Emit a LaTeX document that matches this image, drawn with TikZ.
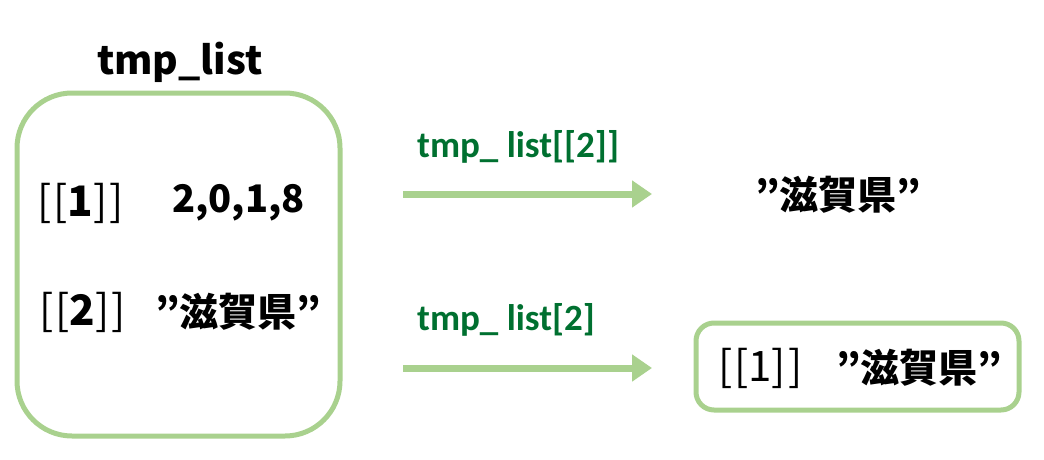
\documentclass[tikz,border=0pt]{standalone}
\usepackage{fontspec}
\setmainfont{Noto Sans CJK JP}
\newfontfamily\calib{Carlito}
\usetikzlibrary{arrows.meta}
\definecolor{boxgreen}{RGB}{169,209,142}
\definecolor{labgreen}{RGB}{0,112,48}
\tikzset{
  big/.style={font=\fontsize{39}{46}\selectfont\bfseries, inner sep=0pt, anchor=west},
  num/.style={font=\fontsize{38}{44}\selectfont\bfseries, inner sep=0pt, anchor=west},
  brk/.style={font=\fontsize{42}{48}\selectfont, inner sep=0pt, anchor=west},
  gbox/.style={draw=boxgreen, line width=5pt},
  lab/.style={font=\calib\fontsize{37}{42}\selectfont\bfseries, text=labgreen, inner sep=0pt, anchor=west},
  garrow/.style={draw=boxgreen, line width=7pt, -{Triangle[length=20pt,width=26pt]}}
}
\begin{document}
\begin{tikzpicture}[x=1pt,y=-1pt]
\useasboundingbox (0,0) rectangle (1044,460);
% left box
\draw[gbox, rounded corners=55pt] (17,93) rectangle (340,436);
\node[big, anchor=center] (title) at (180,62) {tmp\_list};
\node[brk] (i1) at (37,203) {[\kern2pt[\textbf{1}]\kern2pt]};
\node[num] (v1) at (172,203) {2,0,1,8};
\node[brk] (i2) at (39,312) {[\kern2pt[\textbf{2}]\kern2pt]};
\node[big] (v2) at (155,312) {”滋賀県”};
% arrows
\coordinate (a1s) at (403,194);
\coordinate (a1e) at (652,194);
\coordinate (a2s) at (403,368);
\coordinate (a2e) at (652,368);
\draw[garrow] (a1s) -- (a1e);
\draw[garrow] (a2s) -- (a2e);
\node[lab] (l1) at (417,147) {tmp\_ list[[2]]};
\node[lab] (l2) at (417,320) {tmp\_ list[2]};
% results
\node[big] (r1) at (755,195) {”滋賀県”};
\draw[gbox, rounded corners=18pt] (696,323) rectangle (1019,410);
\node[brk] (r2a) at (718,368) {[\kern2pt[1]\kern2pt]};
\node[big] (r2b) at (836,368) {”滋賀県”};
\end{tikzpicture}
\end{document}
